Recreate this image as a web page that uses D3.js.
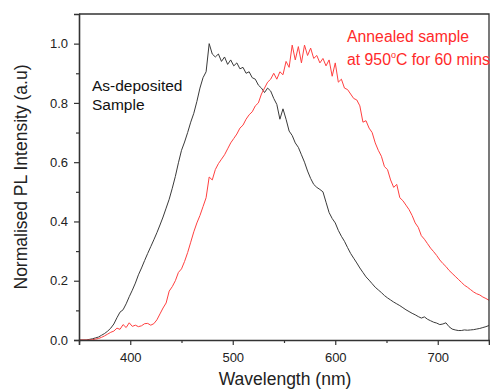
<!DOCTYPE html>
<html>
<head>
<meta charset="utf-8">
<script src="https://cdn.jsdelivr.net/npm/d3@7"></script>
<style>
    body { margin: 0; background: #fff; }
    svg { display: block; font-family: "Liberation Sans", Arial, sans-serif; }
</style>
</head>
<body>
<svg id="chart" width="490" height="390"></svg>
<script>
// wavelength grid (nm), one sample every 3 nm
let wavelength = d3.range(351, 751, 3);

// as-deposited sample, normalised PL
let asDeposited = [
    0, 0, 0, 0.002, 0.004, 0.007, 0.010, 0.016, 0.022, 0.030,
    0.040, 0.054, 0.075, 0.094, 0.102, 0.122, 0.146, 0.168, 0.192, 0.220,
    0.243, 0.268, 0.292, 0.315, 0.338, 0.362, 0.388, 0.415, 0.445, 0.475,
    0.512, 0.552, 0.598, 0.640, 0.668, 0.700, 0.735, 0.765, 0.805, 0.850,
    0.885, 0.905, 1.000, 0.965, 0.955, 0.965, 0.940, 0.955, 0.930, 0.945,
    0.925, 0.935, 0.915, 0.920, 0.900, 0.905, 0.885, 0.880, 0.860, 0.850,
    0.835, 0.850, 0.840, 0.815, 0.795, 0.745, 0.780, 0.745, 0.705, 0.690,
    0.665, 0.650, 0.625, 0.600, 0.570, 0.545, 0.525, 0.515, 0.508, 0.500,
    0.465, 0.430, 0.410, 0.395, 0.370, 0.350, 0.333, 0.312, 0.292, 0.276,
    0.260, 0.243, 0.228, 0.213, 0.202, 0.190, 0.178, 0.169, 0.160, 0.150,
    0.142, 0.135, 0.128, 0.122, 0.116, 0.109, 0.102, 0.096, 0.090, 0.085,
    0.079, 0.074, 0.078, 0.070, 0.065, 0.060, 0.057, 0.052, 0.054, 0.058,
    0.045, 0.037, 0.034, 0.032, 0.032, 0.034, 0.033, 0.034, 0.035, 0.037,
    0.039, 0.042, 0.045, 0.049
];

// annealed at 950 C for 60 mins
let annealed = [
    0, 0, 0, 0, 0.001, 0.003, 0.005, 0.009, 0.014, 0.020,
    0.026, 0.030, 0.040, 0.036, 0.052, 0.042, 0.058, 0.046, 0.050, 0.045,
    0.048, 0.055, 0.056, 0.050, 0.055, 0.068, 0.088, 0.108, 0.125, 0.165,
    0.180, 0.200, 0.228, 0.240, 0.265, 0.295, 0.330, 0.365, 0.395, 0.420,
    0.450, 0.480, 0.550, 0.540, 0.575, 0.595, 0.610, 0.625, 0.645, 0.665,
    0.680, 0.695, 0.715, 0.725, 0.745, 0.760, 0.770, 0.790, 0.800, 0.830,
    0.850, 0.870, 0.880, 0.900, 0.880, 0.905, 0.895, 0.940, 0.920, 0.995,
    0.945, 0.990, 0.935, 0.995, 0.960, 0.985, 0.950, 0.960, 0.935, 0.950,
    0.925, 0.945, 0.890, 0.935, 0.870, 0.880, 0.850, 0.845, 0.830, 0.815,
    0.810, 0.790, 0.735, 0.740, 0.715, 0.700, 0.665, 0.640, 0.620, 0.585,
    0.575, 0.540, 0.515, 0.525, 0.480, 0.470, 0.455, 0.440, 0.420, 0.395,
    0.380, 0.352, 0.340, 0.325, 0.310, 0.298, 0.285, 0.270, 0.258, 0.248,
    0.235, 0.225, 0.215, 0.205, 0.195, 0.185, 0.178, 0.170, 0.162, 0.156,
    0.152, 0.145, 0.140, 0.134
];

let xTicks = [400, 500, 600, 700];
let xMinor = [350, 450, 550, 650, 750];
let yTicks = [0, 0.2, 0.4, 0.6, 0.8, 1.0];
let yMinor = [0.1, 0.3, 0.5, 0.7, 0.9];

let margin = { left: 79, right: 1, top: 14, bottom: 50 };
let svg = d3.select('#chart');
let W = +svg.attr('width'), H = +svg.attr('height');

let x = d3.scaleLinear().domain([350, 750]).range([margin.left, W - margin.right]);
let y = d3.scaleLinear().domain([0, 1.1]).range([H - margin.bottom, margin.top]);

// clip the traces to the frame
svg.append('clipPath').attr('id', 'plot-clip').append('rect')
    .attr('x', x(350)).attr('y', y(1.1))
    .attr('width', x(750) - x(350)).attr('height', y(0) - y(1.1));

let line = d3.line().x((d, i) => x(wavelength[i])).y(d => y(d));

let traces = svg.append('g').attr('clip-path', 'url(#plot-clip)');
traces.append('path').datum(asDeposited)
    .attr('d', line).attr('fill', 'none').attr('stroke', '#3a3a3a').attr('stroke-width', 1);
traces.append('path').datum(annealed)
    .attr('d', line).attr('fill', 'none').attr('stroke', '#ff4040').attr('stroke-width', 1);

// frame: top and right
svg.append('path')
    .attr('d', `M${x(350)},${y(1.1)}H${x(750)}V${y(0)}`)
    .attr('fill', 'none').attr('stroke', '#333').attr('stroke-width', 1.3);

// axes
svg.append('g').attr('transform', `translate(0,${y(0)})`)
    .call(d3.axisBottom(x).tickValues(xTicks).tickSize(5).tickPadding(8).tickFormat(d3.format('d')));
svg.append('g').attr('transform', `translate(0,${y(0)})`)
    .call(d3.axisBottom(x).tickValues(xMinor).tickSize(3).tickFormat(''))
    .select('.domain').remove();

svg.append('g').attr('transform', `translate(${x(350)},0)`)
    .call(d3.axisLeft(y).tickValues(yTicks).tickSize(5).tickPadding(6).tickFormat(d3.format('.1f')));
svg.append('g').attr('transform', `translate(${x(350)},0)`)
    .call(d3.axisLeft(y).tickValues(yMinor).tickSize(3).tickFormat(''))
    .select('.domain').remove();

svg.selectAll('.domain').attr('stroke', '#333').attr('stroke-width', 1.6);
svg.selectAll('.tick line').attr('stroke', '#333').attr('stroke-width', 1.2);
svg.selectAll('.tick text').attr('font-size', 13).attr('fill', '#222')
    .attr('font-family', '"Liberation Sans", Arial, sans-serif');

// axis titles
svg.append('text').attr('x', 285).attr('y', 385)
    .attr('text-anchor', 'middle').attr('font-size', 17.5).attr('fill', '#222')
    .text('Wavelength (nm)');
svg.append('text').attr('transform', 'translate(27,177) rotate(-90)')
    .attr('text-anchor', 'middle').attr('font-size', 17.5).attr('fill', '#222')
    .text('Normalised PL Intensity (a.u)');

// annotations
let black = svg.append('text').attr('font-size', 15.5).attr('fill', '#111');
black.append('tspan').attr('x', 92).attr('y', 91).text('As-deposited');
black.append('tspan').attr('x', 92).attr('y', 110).text('Sample');

let red = svg.append('text').attr('font-size', 15.8).attr('fill', '#ff2a2a');
red.append('tspan').attr('x', 347).attr('y', 42).text('Annealed sample');
red.append('tspan').attr('x', 347).attr('y', 65).text('at 950');
red.append('tspan').attr('dy', -7).attr('font-size', 9).text('o');
red.append('tspan').attr('dy', 7).text('C for 60 mins');
</script>
</body>
</html>
